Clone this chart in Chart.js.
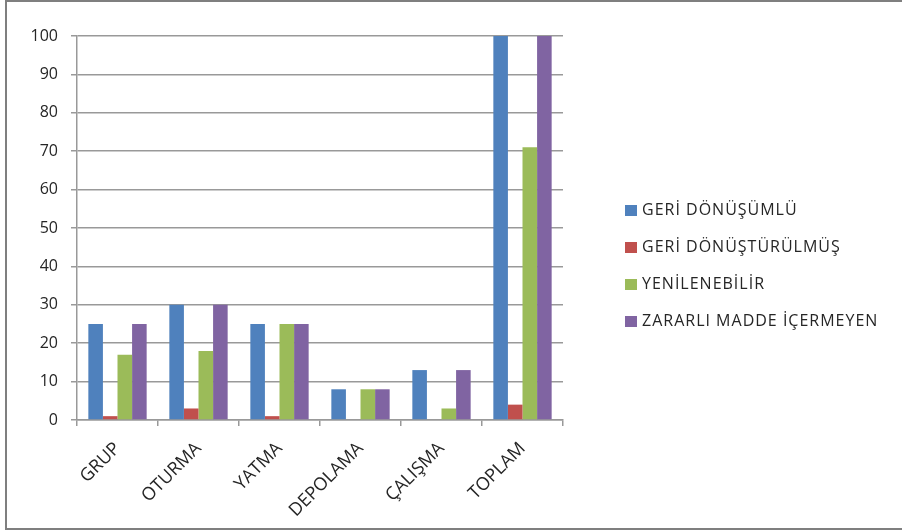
<!DOCTYPE html>
<html>
<head>
<meta charset="utf-8">
<script src="https://cdn.jsdelivr.net/npm/chart.js@4"></script>
<style>
    html, body { margin: 0; padding: 0; background: #ffffff; }
    .frame {
        position: absolute; left: 5px; top: 0; width: 900px; height: 530px;
        border: 2px solid #7f7f7f; box-sizing: border-box; background: #ffffff;
    }
    #dataChart { position: absolute; left: 7px; top: 2px; }
    #legend {
        position: absolute; left: 625px; top: 199px; margin: 0; padding: 0;
        list-style: none; font: 16px "Open Sans", sans-serif; letter-spacing: 1px; color: #262626;
    }
    #legend li { height: 37px; line-height: 20px; white-space: nowrap; }
    #legend span.box {
        display: inline-block; width: 12px; height: 11px; margin-right: 5px; vertical-align: -1px;
    }
</style>
</head>
<body>
<div class="frame"></div>
<canvas id="dataChart" width="893" height="525"></canvas>
<ul id="legend"></ul>
<script>
// data
const categories = ['GRUP', 'OTURMA', 'YATMA', 'DEPOLAMA', 'ÇALIŞMA', 'TOPLAM'];
const seriesNames = ['GERİ DÖNÜŞÜMLÜ', 'GERİ DÖNÜŞTÜRÜLMÜŞ', 'YENİLENEBİLİR', 'ZARARLI MADDE İÇERMEYEN'];
const geriDonusumlu = [25, 30, 25, 8, 13, 100];
const geriDonusturulmus = [1, 3, 1, 0, 0, 4];
const yenilenebilir = [17, 18, 25, 8, 3, 71];
const zararliIcermeyen = [25, 30, 25, 8, 13, 100];
const yTicks = [0, 10, 20, 30, 40, 50, 60, 70, 80, 90, 100];

const colors = ['#4f81bd', '#c0504d', '#9bbb59', '#8064a2'];
const FONT = '"Open Sans", "DejaVu Sans", sans-serif';
const textColor = '#262626';
const gridColor = '#999999';

// chart area target inside the canvas
const canvasW = 893, canvasH = 525;
const areaLeft = 70, areaTop = 34, areaRight = 556, areaBottom = 418;

const ctx = document.getElementById('dataChart').getContext('2d');
const values = [geriDonusumlu, geriDonusturulmus, yenilenebilir, zararliIcermeyen];

const chart = new Chart(ctx, {
    type: 'bar',
    data: {
        labels: categories,
        datasets: seriesNames.map((name, i) => ({
            label: name,
            data: values[i],
            backgroundColor: colors[i],
            borderWidth: 0,
            categoryPercentage: 0.72,
            barPercentage: 1.0
        }))
    },
    options: {
        responsive: false,
        animation: false,
        devicePixelRatio: 1,
        layout: {
            padding: { top: areaTop, bottom: 0, left: 0, right: canvasW - areaRight }
        },
        plugins: {
            legend: { display: false },
            tooltip: { enabled: false }
        },
        scales: {
            x: {
                grid: {
                    offset: true,
                    drawOnChartArea: false,
                    drawTicks: true,
                    tickLength: 6,
                    color: gridColor,
                    lineWidth: 1.5
                },
                border: { color: gridColor, width: 1.5 },
                ticks: {
                    minRotation: 45,
                    maxRotation: 45,
                    padding: 12,
                    color: textColor,
                    font: { family: FONT, size: 18 }
                },
                afterFit: function(scale) { scale.height = canvasH - areaBottom; }
            },
            y: {
                min: 0,
                max: 100,
                afterBuildTicks: function(scale) { scale.ticks = yTicks.map(v => ({ value: v })); },
                grid: {
                    color: gridColor,
                    lineWidth: 1.5,
                    tickLength: 6
                },
                border: { color: gridColor, width: 1.5 },
                ticks: {
                    padding: 13,
                    color: textColor,
                    font: { family: FONT, size: 16 }
                },
                afterFit: function(scale) { scale.width = areaLeft; }
            }
        }
    }
});

// legend built from the chart's own legend items
const legendList = document.getElementById('legend');
chart.options.plugins.legend.labels.generateLabels(chart).forEach(item => {
    const li = document.createElement('li');
    const box = document.createElement('span');
    box.className = 'box';
    box.style.background = item.fillStyle;
    li.appendChild(box);
    li.appendChild(document.createTextNode(item.text));
    legendList.appendChild(li);
});
</script>
</body>
</html>
